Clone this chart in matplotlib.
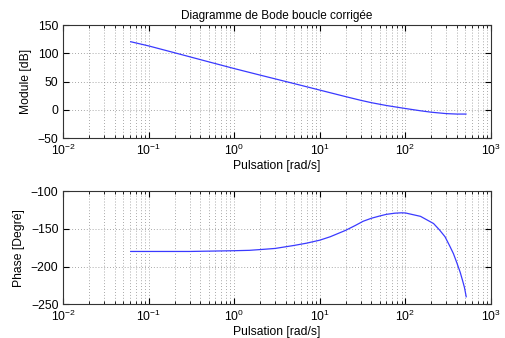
import numpy as np
import matplotlib
matplotlib.use("Agg")
import matplotlib.pyplot as plt
from matplotlib.ticker import LogLocator, NullFormatter

plt.rcParams['font.family'] = ['Liberation Sans', 'DejaVu Sans']
plt.rcParams['font.size'] = 8.7

# frequency response of the corrected loop
w_mod = [0.0614, 0.1, 0.2, 0.5, 1, 2, 5, 10, 20, 30, 40, 60, 100, 150, 200,
         300, 400, 510]
module_db = [120.5, 113, 101, 85, 73, 61.5, 46.5, 35, 23.5, 17, 12.8, 7.8,
             2.5, -1.5, -4, -6.5, -7.3, -7.3]

w_ph = [0.0614, 0.1, 0.3, 1, 1.5, 2, 3, 5, 7, 10, 13.2, 20, 26, 32, 40, 50,
        60, 75, 90, 100, 150, 213, 250, 290, 330, 364, 400, 436, 465, 490, 513]
phase_deg = [-180, -180, -180, -179, -178.5, -177.5, -176, -172, -169, -165,
             -160.5, -152, -145.5, -140, -136, -133, -130.8, -129.3, -128.8,
             -129, -133.5, -143, -151.5, -160.5, -173, -183, -195.5, -207.5,
             -218.5, -228, -240]

line_color = '#3a3aff'
grid_kw = dict(linestyle=(0, (1, 2.5)), color='#8c8c8c', linewidth=0.6)


def style_axes(ax, ylim, yticks):
    ax.set_xscale('log')
    ax.set_xlim(1e-2, 1e3)
    ax.set_ylim(*ylim)
    ax.set_yticks(yticks)
    ax.xaxis.set_minor_locator(LogLocator(base=10, subs=np.arange(2, 10)))
    ax.xaxis.set_minor_formatter(NullFormatter())
    ax.tick_params(which='both', direction='in', top=True, right=True)
    ax.tick_params(which='major', length=4)
    ax.tick_params(which='minor', length=2)
    ax.grid(True, which='major', **grid_kw)
    ax.grid(True, which='minor', axis='x', **grid_kw)
    ax.set_xlabel('Pulsation [rad/s]', labelpad=1)
    for s in ax.spines.values():
        s.set_linewidth(0.8)
        s.set_color('#333333')


fig = plt.figure(figsize=(5.05, 3.38), dpi=100)

ax1 = fig.add_axes([0.1253, 0.591, 0.847, 0.335])
ax1.plot(w_mod, module_db, color=line_color, linewidth=0.9)
style_axes(ax1, (-50, 150), [-50, 0, 50, 100, 150])
ax1.set_ylabel('Module [dB]')
ax1.set_title('Diagramme de Bode boucle corrigée', fontsize=8.5, pad=4)

ax2 = fig.add_axes([0.1253, 0.0997, 0.847, 0.335])
ax2.plot(w_ph, phase_deg, color=line_color, linewidth=0.9)
style_axes(ax2, (-250, -100), [-250, -200, -150, -100])
ax2.set_ylabel('Phase [Degré]')

fig.savefig('out.png', dpi=100)
